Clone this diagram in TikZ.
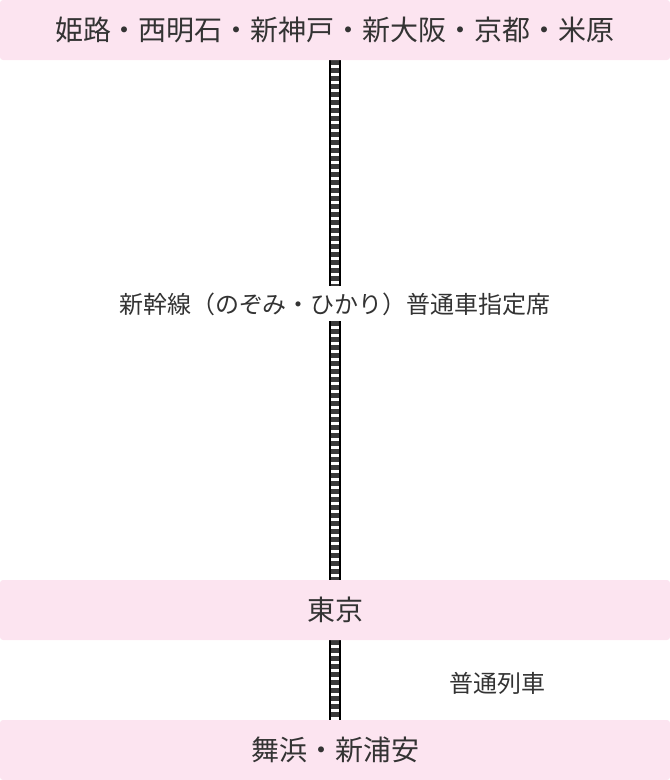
\documentclass[tikz,border=0pt]{standalone}
\usepackage{fontspec}
\setmainfont{Noto Sans CJK JP}
\definecolor{boxpink}{HTML}{FCE4F0}
\definecolor{txt}{HTML}{333333}
\definecolor{tie}{HTML}{3A3A3A}
\tikzset{
  stationbox/.style={fill=boxpink, rounded corners=3pt, minimum width=670pt, minimum height=60pt, inner sep=0pt, text=txt, font=\fontsize{28pt}{32pt}\selectfont},
  routelabel/.style={text=txt, font=\fontsize{24pt}{28pt}\selectfont, inner sep=0pt},
  tiesline/.style={draw=tie, line width=8pt, dash pattern=on 5pt off 3pt},
  railline/.style={draw=black, line width=2pt},
}
\newcommand{\trackseg}[2]{%
  \draw[tiesline] ($(#1)+(0,0)$) -- (#2);
  \draw[railline] ($(#1)+(-5pt,0)$) -- ($(#2)+(-5pt,0)$);
  \draw[railline] ($(#1)+(5pt,0)$) -- ($(#2)+(5pt,0)$);
}
\usetikzlibrary{calc}
\begin{document}
\begin{tikzpicture}[x=1pt,y=-1pt]
\useasboundingbox (0,0) rectangle (670,780);
\coordinate (t1) at (335,60);
\coordinate (t2) at (335,286);
\coordinate (t3) at (335,321);
\coordinate (t4) at (335,580);
\coordinate (t5) at (335,640);
\coordinate (t6) at (335,720);
\trackseg{t1}{t2}
\trackseg{t3}{t4}
\trackseg{t5}{t6}
\node[stationbox] (top) at (335,30) {姫路・西明石・新神戸・新大阪・京都・米原};
\node[stationbox] (tokyo) at (335,610) {東京};
\node[stationbox] (bottom) at (335,750) {舞浜・新浦安};
\node[routelabel] (shinkansen) at (335,304) {新幹線（のぞみ・ひかり）普通車指定席};
\node[routelabel] (local) at (497,683) {普通列車};
\end{tikzpicture}
\end{document}
